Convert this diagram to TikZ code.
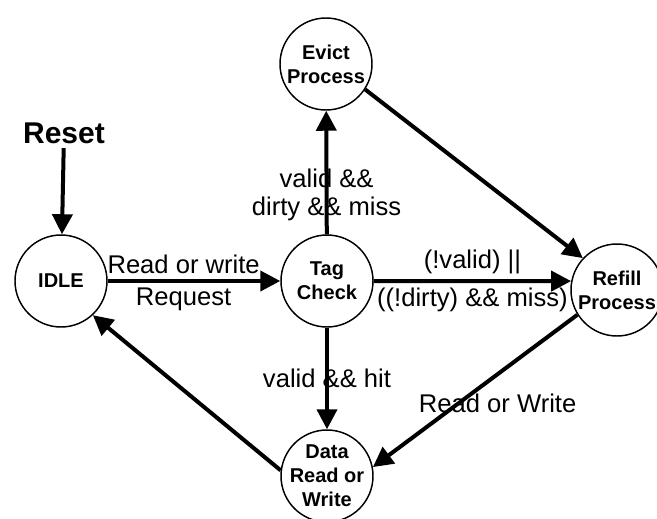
\documentclass[tikz,border=0pt]{standalone}
\usepackage{fontspec}
\setmainfont{Liberation Sans}
\usepackage{tikz}
\usetikzlibrary{arrows.meta,positioning}

\begin{document}
\begin{tikzpicture}[
    x=0.75pt,
    y=-0.75pt,
    state/.style={draw, circle, minimum size=69pt, inner sep=0pt, line width=1.1pt},
    stext/.style={align=center, font=\bfseries\fontsize{15}{18}\selectfont, inner sep=0pt},
    arrow/.style={-{Triangle[length=15pt,width=15pt]}, line width=3pt},
    rlabel/.style={inner sep=4pt, align=center, font=\fontsize{19.2}{20.5}\selectfont}
  ]
    \useasboundingbox (0,0) rectangle (657,518);

    % -- estados --
    \node[state, label={[stext]center:IDLE}]                 (idle)   at (61, 281)  {};
    \node[state, label={[stext]center:Tag\\Check}]           (tag)    at (327, 281) {};
    \node[state, label={[stext]center:Evict\\Process}]       (evict)  at (326, 64)  {};
    \node[state, label={[stext]center:Refill\\Process}]      (refill) at (617, 290) {};
    \node[state, label={[stext]center:Data\\Read or\\Write}] (data)   at (327, 476) {};

    % -- reset --
    \node[font=\bfseries\fontsize{22.5}{26}\selectfont] (reset) at (64, 133) {Reset};
    \draw[arrow] (reset) -- (idle);

    % -- IDLE -> Tag Check --
    \draw[arrow] (idle) -- node[rlabel, above, pos=0.44]{Read or write} node[rlabel, below, pos=0.44]{Request} (tag);

    % -- Tag Check -> Evict --
    \draw[arrow] (tag) -- node[rlabel, pos=0.32]{valid \&\&\\dirty \&\& miss} (evict);

    % -- Tag Check -> Refill --
    \draw[arrow] (tag.east) -- node[rlabel, above]{(!valid) ||} node[rlabel, below]{((!dirty) \&\& miss)} (refill.169);

    % -- Evict -> Refill --
    \draw[arrow] (evict.-33) -- (refill.137);

    % -- Tag Check -> Data --
    \draw[arrow] (tag) -- node[rlabel]{valid \&\& hit} (data);

    % -- Refill -> Data --
    \draw[arrow] (refill.212) -- node[rlabel, pos=0.39, below=9pt]{Read or Write} (data.11);

    % -- Data -> IDLE --
    \draw[arrow] (data.173) -- (idle.313);
\end{tikzpicture}
\end{document}
